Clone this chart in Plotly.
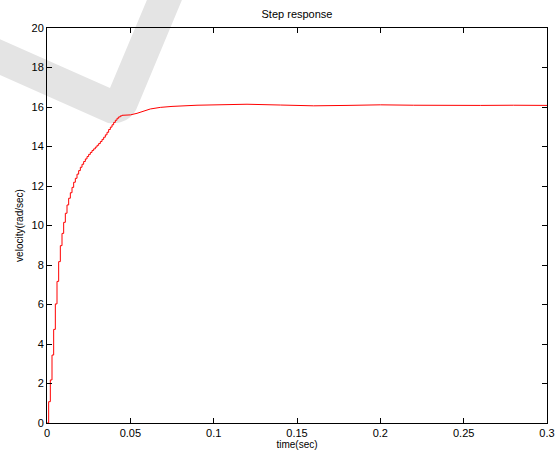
import plotly.graph_objects as go

# ---- data ----
TS = 0.001  # sample time of the staircase part (s)
stair_values = [0, 1.08, 2.18, 3.44, 4.74, 6.03, 7.17, 8.17, 8.98, 9.60,
                10.16, 10.62, 11.04, 11.38, 11.66, 11.93, 12.19, 12.39, 12.60, 12.78,
                12.95, 13.10, 13.24, 13.37, 13.49, 13.60, 13.70, 13.80, 13.88, 13.97,
                14.06, 14.15, 14.25, 14.36, 14.47, 14.59, 14.72, 14.86, 14.98, 15.10,
                15.22, 15.33, 15.43, 15.50, 15.55, 15.58]
smooth_time = [0.045, 0.048, 0.050, 0.054, 0.058, 0.062, 0.068, 0.075, 0.090, 0.105,
               0.120, 0.140, 0.160, 0.180, 0.200, 0.220, 0.240, 0.260, 0.280, 0.300]
smooth_vel = [15.58, 15.59, 15.60, 15.68, 15.80, 15.90, 15.98, 16.03, 16.09, 16.12,
              16.14, 16.10, 16.06, 16.08, 16.11, 16.09, 16.07, 16.08, 16.09, 16.08]
x_ticks = [0, 0.05, 0.1, 0.15, 0.2, 0.25, 0.3]
x_tick_labels = ["0", "0.05", "0.1", "0.15", "0.2", "0.25", "0.3"]
y_ticks = [0, 2, 4, 6, 8, 10, 12, 14, 16, 18, 20]

stair_time = [k * TS for k in range(len(stair_values))]

W, H = 557, 450
L, R, T, B = 47, 547, 28, 423

fig = go.Figure()
fig.add_trace(go.Scatter(x=stair_time + [smooth_time[0]], y=stair_values + [stair_values[-1]],
                         mode="lines", line=dict(color="#ff0000", width=1, shape="hv"),
                         showlegend=False, hoverinfo="skip"))
fig.add_trace(go.Scatter(x=smooth_time, y=smooth_vel, mode="lines",
                         line=dict(color="#ff0000", width=1), showlegend=False,
                         hoverinfo="skip"))

# faint check-mark watermark (decoration), defined in pixel space
def P(px, py):
    return f"{(px - L) / (R - L):.4f},{(B - py) / (B - T):.4f}"

wm = (f"M {P(-5, 37)} L {P(110, 88)} L {P(149, -5)} L {P(184, -5)} "
      f"L {P(136, 110)} Q {P(127, 125)} {P(108, 123)} L {P(0, 75)} L {P(-5, 73)} Z")
fig.add_shape(type="path", path=wm, xref="paper", yref="paper",
              fillcolor="#e4e4e4", line=dict(width=0), layer="below")

axis_common = dict(showline=True, linecolor="black", linewidth=1, mirror="ticks",
                   ticks="inside", ticklen=5, tickcolor="black", tickwidth=1,
                   showgrid=False, zeroline=False, automargin=False,
                   tickfont=dict(family="Liberation Sans, Arial", size=11, color="black"))

fig.update_layout(
    width=W, height=H,
    margin=dict(l=L, r=W - R, t=T, b=H - B, autoexpand=False),
    paper_bgcolor="white", plot_bgcolor="rgba(0,0,0,0)",
    hovermode=False,
    title=dict(text="Step response", x=(L + R) / 2 / W, xanchor="center",
               y=1 - 14 / H, yanchor="middle",
               font=dict(family="Liberation Sans, Arial", size=11, color="black")),
    xaxis=dict(range=[0, 0.3], tickvals=x_ticks, ticktext=x_tick_labels,
               title=dict(text="time(sec)", standoff=0,
                          font=dict(family="Liberation Sans, Arial", size=10, color="black")),
               **axis_common),
    yaxis=dict(range=[0, 20], tickvals=y_ticks,
               title=dict(text="velocity(rad/sec)", standoff=6,
                          font=dict(family="Liberation Sans, Arial", size=10, color="black")),
               **axis_common),
)

fig.write_html("out.html", config={"displayModeBar": False, "staticPlot": True},
               post_script="document.body.style.margin='0';document.body.style.overflow='hidden';")
